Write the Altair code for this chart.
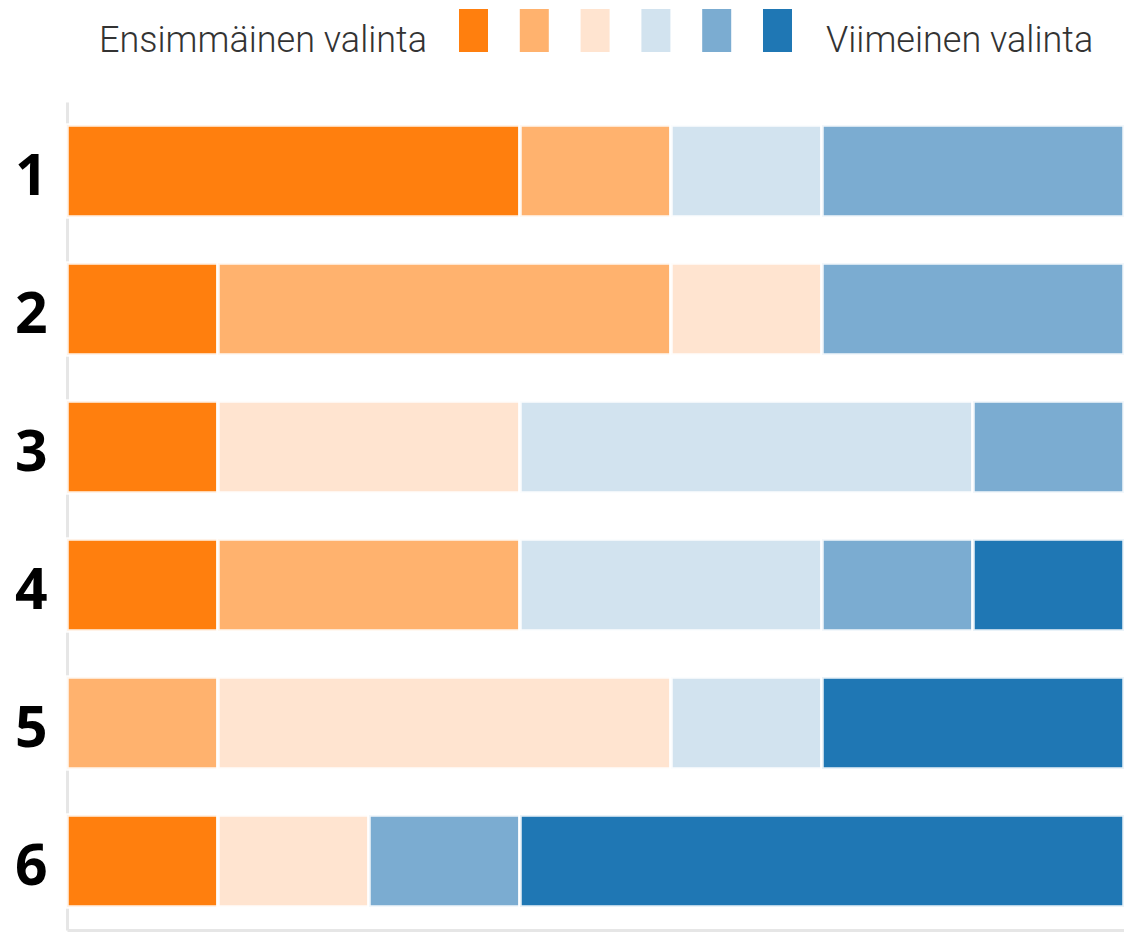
import altair as alt
import pandas as pd

# Rows (items ranked) and choice levels (1 = first choice ... 6 = last choice)
rows = ["1", "2", "3", "4", "5", "6"]
levels = ["1", "2", "3", "4", "5", "6"]

# counts of each choice level per row (row order 1..6)
level1 = [3, 1, 1, 1, 0, 1]
level2 = [1, 3, 0, 2, 1, 0]
level3 = [0, 1, 2, 0, 3, 1]
level4 = [1, 0, 3, 2, 1, 0]
level5 = [2, 2, 1, 1, 0, 1]
level6 = [0, 0, 0, 1, 2, 4]

colors = ["#ff7f0e", "#ffb26e", "#ffe4d0", "#d2e3ef", "#7bacd1", "#1f77b4"]
legend_labels = ["Ensimmäinen valinta", "Viimeinen valinta"]

series = [level1, level2, level3, level4, level5, level6]
recs = []
for li, (lvl, vals) in enumerate(zip(levels, series)):
    for r, v in zip(rows, vals):
        if v > 0:
            recs.append({"row": r, "level": lvl, "order": li, "count": v})
df = pd.DataFrame(recs)

color_scale = alt.Scale(domain=levels, range=colors)

bars = alt.Chart(df).mark_bar(stroke="white", strokeWidth=3.5, strokeOpacity=0.9).encode(
    x=alt.X("sum(count):Q", stack="zero",
            scale=alt.Scale(domain=[0, 7], nice=False, zero=True),
            axis=alt.Axis(title=None, labels=False, ticks=False, grid=False,
                          domainColor="#e6e6e6", domainWidth=3)),
    y=alt.Y("row:N", sort=rows,
            scale=alt.Scale(paddingInner=1/3, paddingOuter=1/6),
            axis=alt.Axis(title=None, ticks=False, grid=False,
                          domainColor="#e6e6e6", domainWidth=3,
                          labelFont="Open Sans", labelFontWeight="bold",
                          labelFontSize=57, labelColor="#000000",
                          labelPadding=20, labelOffset=7)),
    color=alt.Color("level:N", scale=color_scale, legend=None),
    order=alt.Order("order:Q"),
)

legend_df = pd.DataFrame({"level": levels})
swatches = alt.Chart(legend_df).mark_rect().encode(
    x=alt.X("level:N", sort=levels,
            scale=alt.Scale(range=[392, 725], paddingInner=0.523, paddingOuter=0),
            axis=None),
    y=alt.value(-93),
    y2=alt.value(-50),
    color=alt.Color("level:N", scale=color_scale, legend=None),
)

legend_font = "Roboto"
text_first = alt.Chart(pd.DataFrame({"t": [legend_labels[0]]})).mark_text(
    align="right", baseline="alphabetic", font=legend_font,
    fontSize=36, fontWeight=300, color="#333333"
).encode(text="t:N", x=alt.value(360), y=alt.value(-50))

text_last = alt.Chart(pd.DataFrame({"t": [legend_labels[1]]})).mark_text(
    align="left", baseline="alphabetic", font=legend_font,
    fontSize=36, fontWeight=300, color="#333333"
).encode(text="t:N", x=alt.value(759), y=alt.value(-50))

chart = alt.layer(bars, swatches, text_first, text_last).resolve_scale(
    x="independent"
).properties(
    width=1057, height=828,
    autosize=alt.AutoSizeParams(type="none"),
    padding={"left": 67, "top": 102, "right": 0, "bottom": 3},
).configure_view(stroke=None)

chart.save("out.html", embed_options={"renderer": "svg", "actions": False})
